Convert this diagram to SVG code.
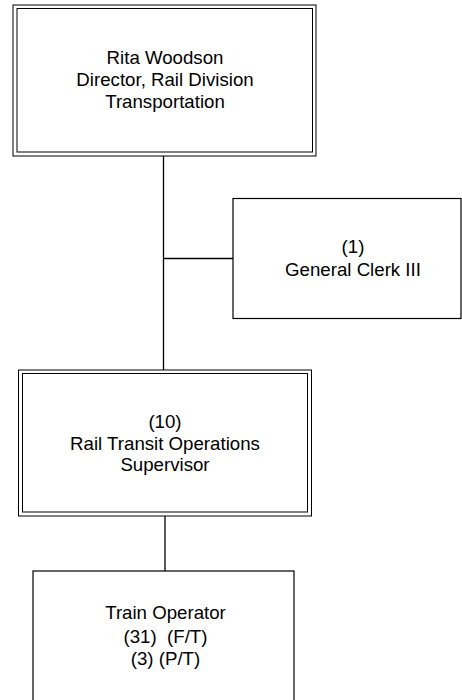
<svg xmlns="http://www.w3.org/2000/svg" width="462" height="700" viewBox="0 0 462 700">
<style>
.bg{fill:#fff}
.box{fill:#fff;stroke:#000;stroke-width:1.2}
.dbl{fill:none;stroke:#000;stroke-width:1}
.ln{fill:none;stroke:#000;stroke-width:1.3}
text{font-family:"Liberation Sans",Arial,sans-serif;font-size:18.67px;fill:#000;text-anchor:middle}
</style>
<rect class="bg" x="0" y="0" width="462" height="700"/>
<g id="connectors">
<line class="ln" x1="163.5" y1="156" x2="163.5" y2="370"/>
<line class="ln" x1="163.5" y1="258.5" x2="233" y2="258.5"/>
<line class="ln" x1="165" y1="516" x2="165" y2="571"/>
</g>
<g id="director">
<rect class="dbl" x="13" y="5" width="303" height="151"/>
<rect class="dbl" x="17" y="8.5" width="295.5" height="143.5"/>
<text x="165" y="64">Rita Woodson</text>
<text x="165" y="86">Director, Rail Division</text>
<text x="165" y="108">Transportation</text>
</g>
<g id="clerk">
<rect class="box" x="233" y="198.5" width="228" height="120"/>
<text x="353" y="253">(1)</text>
<text x="353" y="275.5">General Clerk III</text>
</g>
<g id="supervisor">
<rect class="dbl" x="18.5" y="370" width="293" height="146"/>
<rect class="dbl" x="22.5" y="373.5" width="285" height="138.5"/>
<text x="165" y="428">(10)</text>
<text x="165" y="450">Rail Transit Operations</text>
<text x="165" y="471">Supervisor</text>
</g>
<g id="operator">
<rect class="box" x="33" y="571" width="261" height="140"/>
<text x="165.5" y="619">Train Operator</text>
<text x="165.5" y="643" xml:space="preserve">(31)  (F/T)</text>
<text x="165.5" y="665">(3) (P/T)</text>
</g>
</svg>
